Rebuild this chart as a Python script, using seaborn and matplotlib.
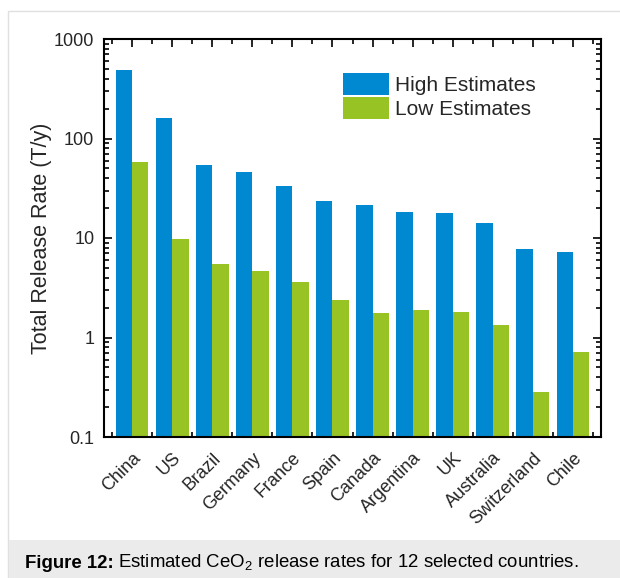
# Import libraries
import pandas as pd
import seaborn as sns
import matplotlib.pyplot as plt
from matplotlib.patches import Rectangle
from matplotlib.ticker import FixedLocator, FuncFormatter, NullFormatter

# Set visualization style
sns.set_theme(style="ticks")
plt.rcParams["font.family"] = ["Liberation Sans", "DejaVu Sans"]
plt.rcParams["mathtext.fontset"] = "custom"
plt.rcParams["mathtext.rm"] = "Liberation Sans"
plt.rcParams["mathtext.bf"] = "Liberation Sans:bold"

# Chart data
countries = ["China", "US", "Brazil", "Germany", "France", "Spain",
             "Canada", "Argentina", "UK", "Australia", "Switzerland", "Chile"]
high_estimates = [490, 161, 54, 46, 33, 23.4, 21.4, 18.1, 17.7, 14.1, 7.8, 7.3]
low_estimates = [57.5, 9.8, 5.5, 4.7, 3.6, 2.4, 1.75, 1.87, 1.82, 1.35, 0.284, 0.72]
series_names = ["High Estimates", "Low Estimates"]
colors = ["#0089d0", "#97c424"]

df = pd.DataFrame({
    "country": countries * 2,
    "rate": high_estimates + low_estimates,
    "estimate": [series_names[0]] * len(countries) + [series_names[1]] * len(countries),
})

fig = plt.figure(figsize=(6.2, 5.78), dpi=100)

# Panel frame and caption band
fig.add_artist(Rectangle((8 / 620, -0.01), 1.1, 1 - 11 / 578 + 0.01,
                         transform=fig.transFigure, facecolor="white",
                         edgecolor="#e0e0e0", linewidth=1.0, zorder=0))
fig.add_artist(Rectangle((8.5 / 620, 0), 1.1, 38 / 578,
                         transform=fig.transFigure, facecolor="#ebebeb",
                         edgecolor="none", zorder=0.5))

ax = fig.add_axes([104 / 620, 141 / 578, 497 / 620, 398 / 578])

sns.barplot(
    data=df,
    x="country",
    y="rate",
    hue="estimate",
    palette=colors,
    width=0.82,
    linewidth=0,
    saturation=1,
    ax=ax,
)

ax.set_yscale("log")
ax.set_ylim(0.1, 1000)
ax.set_xlim(-0.7, 11.7)
ax.set_axisbelow(True)

# Ticks: inward on all four sides
n = len(countries)
ax.xaxis.set_major_locator(FixedLocator(range(n)))
ax.xaxis.set_minor_locator(FixedLocator([i - 0.5 for i in range(n + 1)]))
ax.set_xticklabels(countries, rotation=45, ha="right", rotation_mode="anchor",
                   fontsize=13)
ax.yaxis.set_major_formatter(FuncFormatter(lambda v, p: "%g" % v))
ax.yaxis.set_minor_formatter(NullFormatter())
ax.tick_params(axis="both", which="both", direction="in",
               top=True, right=True, color="black", width=1.2)
ax.tick_params(axis="both", which="major", length=6)
ax.tick_params(axis="both", which="minor", length=3.5)
ax.tick_params(axis="y", which="major", labelsize=13, pad=7)
ax.tick_params(axis="x", which="major", pad=9)

for spine in ax.spines.values():
    spine.set_visible(True)
    spine.set_color("black")
    spine.set_linewidth(1.5)

ax.set_xlabel("")
ax.set_ylabel("Total Release Rate (T/y)", fontsize=15.5)
ax.yaxis.set_label_coords(-0.105, 0.5)

ax.legend(
    loc="upper left",
    bbox_to_anchor=(0.481, 0.915),
    frameon=False,
    fontsize=15,
    handlelength=2.2,
    handleheight=1.25,
    handletextpad=0.3,
    labelspacing=0.12,
    borderpad=0,
    borderaxespad=0,
    title=None,
)

# Caption: bold label followed by the plain text
bold = fig.text(25 / 620, 10 / 578, "Figure 12:", fontsize=13.4,
                fontweight="bold", va="baseline", ha="left", color="black")
renderer = fig.canvas.get_renderer()
bb = bold.get_window_extent(renderer=renderer)
fig.text((bb.x1 + 4) / 620, 10 / 578,
         r"Estimated CeO$_2$ release rates for 12 selected countries.",
         fontsize=13.4, va="baseline", ha="left", color="black")

fig.savefig("out.png", dpi=100)
